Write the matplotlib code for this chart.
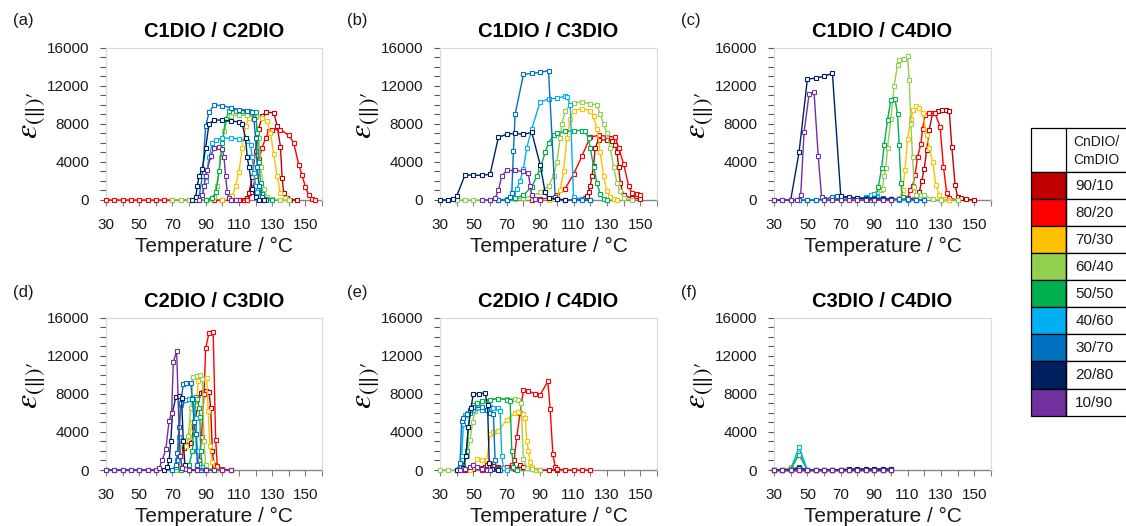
import matplotlib
matplotlib.use("Agg")
import matplotlib.pyplot as plt
from matplotlib.patches import Rectangle

plt.rcParams['font.family'] = ['Liberation Sans', 'DejaVu Sans']
plt.rcParams['mathtext.fontset'] = 'stix'

# ---------------- categories / styling lists ----------------
ratios = ['90/10', '80/20', '70/30', '60/40', '50/50', '40/60', '30/70', '20/80', '10/90']
colors = ['#C00000', '#FF0000', '#FFC000', '#92D050', '#00B050', '#00B0F0', '#0070C0', '#002060', '#7030A0']
panel_titles = ['C1DIO / C2DIO', 'C1DIO / C3DIO', 'C1DIO / C4DIO',
                'C2DIO / C3DIO', 'C2DIO / C4DIO', 'C3DIO / C4DIO']
panel_letters = ['(a)', '(b)', '(c)', '(d)', '(e)', '(f)']
x_ticks = [30, 50, 70, 90, 110, 130, 150]
y_ticks = [0, 4000, 8000, 12000, 16000]

# ---------------- (a) C1DIO / C2DIO ----------------
A_9010_T = [100, 105, 110, 113, 115, 116, 118, 120, 122, 124, 126, 131, 133, 135, 136, 137, 139, 141, 145]
A_9010_V = [0, 0, 0, 50, 200, 700, 2400, 5200, 7500, 8800, 9250, 9150, 7800, 5600, 2300, 700, 200, 50, 0]
A_8020_T = [30, 35, 40, 45, 50, 55, 60, 65, 70, 75, 80, 85, 90, 95, 100, 105, 110, 115,
            118, 120, 122, 124, 126, 128, 130, 135, 140, 143, 146, 148, 150, 152, 154, 156]
A_8020_V = [0, 0, 0, 0, 0, 0, 0, 0, 0, 0, 0, 0, 0, 0, 0, 0, 0, 0,
            800, 2500, 4300, 5500, 6500, 7200, 7400, 7400, 6800, 6000, 3700, 2600, 1400, 500, 100, 0]
A_7030_T = [100, 104, 106, 108, 110, 112, 114, 116, 120, 124, 127, 129, 131, 133, 135, 138, 140]
A_7030_V = [0, 100, 400, 1500, 2900, 5500, 7800, 8600, 8700, 8600, 8300, 7000, 4800, 2500, 700, 200, 0]
A_6040_T = [70, 75, 80, 85, 90, 93, 95, 97, 99, 101, 103, 105, 110, 115, 120, 122, 123, 125, 127, 130, 135, 140]
A_6040_V = [0, 0, 0, 0, 0, 100, 300, 1500, 4500, 7200, 8500, 8800, 8900, 8900, 8800, 6500, 3500, 1200, 300, 100, 0, 0]
A_5050_T = [90, 94, 96, 98, 100, 102, 104, 108, 112, 116, 120, 121, 122, 123, 124, 126, 130]
A_5050_V = [0, 200, 800, 3000, 6000, 8500, 9300, 9400, 9350, 9300, 9200, 7000, 4000, 1800, 600, 100, 0]
A_4060_T = [84, 86, 88, 90, 92, 94, 96, 100, 105, 110, 115, 117, 118, 119, 120, 121, 122, 124]
A_4060_V = [0, 100, 500, 2000, 4500, 6000, 6300, 6500, 6500, 6400, 6200, 5800, 4500, 2800, 1500, 800, 300, 0]
A_3070_T = [84, 86, 88, 90, 92, 95, 100, 105, 110, 115, 118, 119, 120, 121, 122, 124, 126]
A_3070_V = [0, 300, 2500, 7800, 9200, 10000, 9900, 9700, 9500, 9300, 9200, 8500, 6500, 3500, 1500, 300, 0]
A_2080_T = [82, 84, 85, 86, 88, 90, 92, 95, 100, 105, 110, 112, 114, 115, 116, 118, 120, 122, 125]
A_2080_V = [0, 300, 1500, 2500, 3300, 5500, 8000, 8400, 8400, 8300, 8200, 8000, 6500, 4500, 3500, 1200, 300, 50, 0]
A_1090_T = [86, 88, 89, 90, 91, 93, 95, 98, 100, 101, 102, 103, 104, 105, 108]
A_1090_V = [0, 500, 1500, 2500, 3200, 4600, 5500, 5600, 5400, 4500, 2500, 800, 200, 50, 0]

# ---------------- (b) C1DIO / C3DIO ----------------
B_9010_T = [105, 110, 115, 117, 118, 119, 120, 121, 122, 123, 125, 130, 133, 135, 136, 137, 138, 140, 145, 150]
B_9010_V = [0, 0, 100, 200, 400, 800, 1500, 2500, 3600, 5500, 6300, 6300, 6200, 5800, 5000, 3500, 1800, 500, 200, 100]
B_8020_T = [85, 90, 95, 100, 105, 110, 115, 120, 125, 130, 135, 137, 140, 143, 145, 148, 150]
B_8020_V = [0, 100, 200, 500, 1200, 2700, 4600, 6600, 6800, 6700, 6600, 5500, 3800, 1500, 700, 600, 500]
B_7030_T = [95, 98, 100, 102, 104, 106, 108, 110, 115, 120, 122, 124, 126, 128, 130, 132, 134, 136]
B_7030_V = [0, 100, 300, 1000, 3000, 6500, 8500, 9400, 9600, 9400, 8800, 7500, 5000, 2500, 900, 300, 100, 0]
B_6040_T = [30, 35, 40, 45, 50, 55, 60, 65, 70, 75, 80, 85, 90, 95,
            98, 100, 102, 103, 105, 108, 110, 115, 120, 124, 126, 128, 130, 132, 134, 136, 138, 140, 145]
B_6040_V = [0, 0, 0, 0, 0, 0, 0, 0, 0, 100, 200, 400, 800, 1500,
            2500, 4000, 6500, 8000, 9300, 10000, 10200, 10300, 10100, 10000, 9000, 8000, 7000, 5500, 3500, 1800, 900, 200, 0]
B_5050_T = [60, 65, 70, 75, 80, 85, 88, 90, 93, 95, 98, 100, 105, 110, 115, 117, 119, 120, 122, 124, 126, 128, 130]
B_5050_V = [0, 0, 100, 200, 500, 1400, 2500, 3300, 5000, 6000, 6800, 7000, 7200, 7300, 7300, 7200, 6500, 5500, 3500, 1800, 600, 100, 0]
B_4060_T = [65, 70, 72, 74, 76, 78, 80, 82, 85, 90, 95, 100, 105, 106, 108, 110, 115, 120]
B_4060_V = [0, 0, 200, 600, 1200, 2000, 3300, 5500, 7500, 10300, 10600, 10700, 10900, 10800, 10000, 300, 100, 0]
B_3070_T = [65, 70, 72, 73, 74, 75, 80, 85, 90, 95, 99, 100, 105, 110, 115, 120]
B_3070_V = [0, 0, 300, 700, 5200, 9000, 13200, 13300, 13400, 13600, 300, 100, 0, 0, 0, 0]
B_2080_T = [30, 35, 38, 40, 45, 50, 55, 60, 65, 70, 75, 80, 85, 90, 93, 95, 100, 105]
B_2080_V = [0, 0, 100, 400, 2650, 2600, 2600, 2700, 6600, 6900, 7000, 6900, 7100, 3700, 800, 200, 100, 0]
B_1090_T = [55, 60, 63, 65, 67, 70, 75, 80, 83, 84, 85, 87, 90]
B_1090_V = [0, 0, 200, 1000, 2500, 3100, 3100, 3000, 2800, 1500, 500, 100, 0]

# ---------------- (c) C1DIO / C4DIO ----------------
C_9010_T = [110, 115, 117, 118.5, 120, 121.5, 123, 125, 128, 130.5, 133, 135, 136.5, 138.5, 140, 142, 145, 150]
C_9010_V = [0, 300, 800, 2000, 3300, 5300, 7400, 9100, 9300, 9500, 9500, 9400, 5600, 1600, 350, 200, 100, 0]
C_8020_T = [105, 110, 111.5, 113, 114.5, 116, 118, 119, 120.5, 123, 126.5, 129.5, 131.5, 133.5, 135, 140]
C_8020_V = [0, 200, 1000, 1500, 2600, 4500, 5900, 7500, 8900, 9100, 9100, 7700, 3500, 700, 200, 0]
C_7030_T = [100, 105, 107, 108.5, 110, 112, 113.5, 115, 117, 119, 121.5, 123, 125, 127, 129, 131, 135]
C_7030_V = [0, 200, 1000, 3100, 6400, 8500, 9500, 9850, 9650, 9100, 6800, 5500, 4000, 1600, 500, 100, 0]
C_6040_T = [85, 88, 90, 92, 94, 95, 96, 97, 98, 100, 102, 104, 105, 108, 110, 111, 112, 113, 114, 115, 118, 120, 125, 130, 140]
C_6040_V = [0, 100, 300, 700, 1100, 1200, 2500, 3400, 5500, 8500, 12000, 14200, 14750, 14800, 15100, 12600, 8000, 4500, 1400, 500, 500, 500, 100, 0, 0]
C_5050_T = [88, 91, 92.5, 94.5, 96, 98, 100, 102.5, 104, 105, 106, 107, 110, 115, 120]
C_5050_V = [0, 400, 1400, 3400, 5800, 8400, 10500, 10600, 9000, 5800, 1800, 300, 0, 0, 0]
C_4060_T = [45, 50, 55, 60, 65, 70, 75, 80, 85, 88, 90, 92, 95, 100, 105, 110, 115, 120]
C_4060_V = [0, 0, 0, 0, 0, 100, 100, 200, 300, 500, 600, 300, 100, 100, 0, 0, 0, 0]
C_3070_T = [40, 45, 50, 55, 60, 65, 68, 70, 75, 80, 85, 90, 95, 100, 105, 110, 115, 120]
C_3070_V = [0, 0, 0, 0, 100, 300, 400, 300, 200, 200, 200, 200, 200, 100, 100, 100, 0, 0]
C_2080_T = [30, 35, 40, 45, 50, 55, 60, 65, 70, 75, 80, 85, 90, 95, 100]
C_2080_V = [0, 0, 0, 5000, 12700, 12800, 13000, 13300, 400, 300, 200, 100, 100, 100, 100]
C_1090_T = [30, 35, 40, 44, 46, 48, 51, 54, 56.5, 58.5, 60, 65, 70, 75, 80, 85, 90, 95, 100]
C_1090_V = [0, 0, 0, 0, 500, 7100, 11100, 11300, 4600, 300, 0, 0, 0, 0, 0, 0, 0, 0, 0]

# ---------------- (d) C2DIO / C3DIO ----------------
D_9010_T = [74, 75.5, 77, 79, 81, 83, 85, 87, 88.5, 90, 92, 93, 94, 95, 96, 100, 105]
D_9010_V = [0, 1500, 2300, 2600, 2800, 4500, 6500, 8100, 8200, 8300, 8200, 6500, 2000, 500, 100, 0, 0]
D_8020_T = [80, 85, 86, 87.5, 89, 90, 92, 94.5, 96, 97, 100, 105]
D_8020_V = [0, 0, 1000, 3500, 8000, 12800, 14400, 14500, 3200, 400, 100, 0]
D_7030_T = [74, 76, 78, 80, 82, 84.3, 85.6, 88, 90.6, 91.5, 92.5, 94, 96, 100]
D_7030_V = [0, 1500, 2500, 3500, 5000, 6800, 9400, 9600, 9700, 6200, 2500, 800, 0, 0]
D_6040_T = [72, 74, 75.5, 77.5, 79.5, 81, 82.5, 84.5, 86.5, 88, 89, 90, 92, 95, 100]
D_6040_V = [0, 1000, 2800, 3150, 3600, 6500, 9800, 9900, 10000, 9600, 3000, 500, 0, 0, 0]
D_5050_T = [75, 78, 80, 82, 83, 84, 85, 86, 86.5, 87, 88, 90, 95]
D_5050_V = [0, 200, 500, 2000, 5000, 7700, 7500, 6500, 5600, 2000, 300, 0, 0]
D_4060_T = [70, 72, 73, 74, 75, 76, 78, 80, 82, 84, 85, 86, 88, 90]
D_4060_V = [0, 300, 1000, 3500, 6800, 7300, 7400, 7500, 7600, 5500, 2000, 300, 0, 0]
D_3070_T = [70, 72, 73, 74, 75, 76.5, 78, 81, 82, 83, 84, 85, 87, 90]
D_3070_V = [0, 500, 1800, 4500, 7000, 9000, 9100, 9100, 7500, 5000, 3800, 500, 0, 0]
D_2080_T = [30, 35, 40, 45, 50, 55, 60, 65, 67, 68, 69, 70, 72, 74, 75.5, 76.5, 77.5, 80, 85]
D_2080_V = [0, 0, 0, 0, 0, 0, 0, 0, 300, 1000, 3000, 6000, 7700, 7800, 7600, 3000, 500, 0, 0]
D_1090_T = [30, 35, 40, 45, 50, 55, 60, 62, 64, 66, 68, 69.5, 70.5, 72.5, 74.5, 76, 78, 80, 85, 90, 95, 100, 105]
D_1090_V = [0, 0, 0, 0, 0, 0, 0, 200, 1100, 2200, 5200, 6000, 11300, 12500, 1500, 200, 100, 0, 0, 0, 0, 0, 0]

# ---------------- (e) C2DIO / C4DIO ----------------
E_9010_T = [45, 50, 55, 57, 58, 60, 62, 65, 70, 75, 78, 80, 85, 88, 90, 95, 100]
E_9010_V = [0, 100, 200, 300, 500, 600, 400, 300, 200, 100, 500, 300, 100, 0, 0, 0, 0]
E_8020_T = [55, 60, 65, 70, 73, 74.4, 76, 78, 80, 83, 87, 90, 94.6, 96, 97.6, 99, 100, 105, 110, 115, 120]
E_8020_V = [0, 300, 200, 300, 500, 1000, 3500, 6000, 8400, 8300, 8000, 7900, 9300, 6400, 1700, 300, 100, 0, 0, 0, 0]
E_7030_T = [48, 50, 52, 55, 58, 60, 62, 65, 70, 75, 77, 80, 81, 82, 83, 84, 85, 87]
E_7030_V = [0, 300, 1200, 1100, 1000, 3800, 4000, 4100, 5300, 6000, 6100, 5900, 5500, 3000, 2000, 800, 300, 0]
E_6040_T = [30, 35, 40, 44, 46, 48, 49.5, 51, 53, 55, 58, 60, 65, 70, 75, 77, 78.5, 80, 82, 85, 90]
E_6040_V = [0, 0, 0, 300, 1500, 3200, 5000, 6200, 6800, 7200, 7300, 7400, 7500, 7500, 7500, 7400, 7000, 1200, 200, 100, 0]
E_5050_T = [42, 44, 46, 47, 48, 50, 52, 55, 60, 65, 70, 72, 73, 74, 76]
E_5050_V = [0, 500, 2000, 4500, 6000, 6800, 7000, 7300, 7400, 7500, 7400, 7300, 2000, 300, 0]
E_4060_T = [41, 43, 44, 45, 47, 50, 55, 60, 62, 65, 66, 67, 68, 70]
E_4060_V = [0, 1500, 4800, 5800, 6000, 6300, 6300, 6600, 6500, 6500, 6200, 1500, 200, 0]
E_3070_T = [40, 42, 43, 44, 46, 48, 50, 55, 58, 60, 62, 63, 64, 66]
E_3070_V = [0, 700, 5200, 5500, 5900, 6300, 6600, 6600, 6300, 6000, 5900, 1000, 100, 0]
E_2080_T = [40, 44, 45.5, 47, 48.5, 50, 53.5, 57, 58.5, 59.5, 61, 65]
E_2080_V = [0, 200, 1500, 4500, 6500, 8000, 8000, 8100, 6800, 700, 100, 0]
E_1090_T = [42, 45, 48, 50, 52, 55, 58, 60]
E_1090_V = [0, 100, 300, 500, 300, 100, 0, 0]

# ---------------- (f) C3DIO / C4DIO ----------------
F_T = [30, 35, 40, 45, 50, 55, 60, 65, 70, 75, 80, 85, 90, 95, 100]
F_9010_V = [0, 0, 0, 0, 0, 0, 0, 0, 0, 0, 0, 0, 0, 0, 0]
F_8020_V = [0, 0, 0, 0, 0, 0, 0, 0, 0, 0, 0, 0, 0, 0, 0]
F_7030_V = [0, 0, 300, 200, 0, 0, 0, 0, 0, 0, 0, 0, 0, 0, 0]
F_6040_V = [0, 0, 200, 1800, 0, 0, 0, 0, 0, 0, 0, 0, 0, 0, 0]
F_5050_V = [0, 0, 100, 1600, 0, 0, 0, 0, 0, 100, 100, 100, 100, 100, 100]
F_4060_V = [0, 0, 100, 2400, 0, 0, 0, 0, 0, 0, 0, 0, 0, 0, 0]
F_3070_V = [0, 0, 0, 300, 0, 0, 0, 0, 0, 0, 0, 0, 0, 0, 0]
F_2080_V = [0, 0, 0, 200, 0, 0, 0, 0, 0, 100, 100, 100, 100, 100, 100]
F_1090_V = [0, 0, 0, 0, 0, 0, 0, 0, 0, 0, 0, 0, 0, 0, 0]

panels = [
    [(A_9010_T, A_9010_V), (A_8020_T, A_8020_V), (A_7030_T, A_7030_V), (A_6040_T, A_6040_V), (A_5050_T, A_5050_V),
     (A_4060_T, A_4060_V), (A_3070_T, A_3070_V), (A_2080_T, A_2080_V), (A_1090_T, A_1090_V)],
    [(B_9010_T, B_9010_V), (B_8020_T, B_8020_V), (B_7030_T, B_7030_V), (B_6040_T, B_6040_V), (B_5050_T, B_5050_V),
     (B_4060_T, B_4060_V), (B_3070_T, B_3070_V), (B_2080_T, B_2080_V), (B_1090_T, B_1090_V)],
    [(C_9010_T, C_9010_V), (C_8020_T, C_8020_V), (C_7030_T, C_7030_V), (C_6040_T, C_6040_V), (C_5050_T, C_5050_V),
     (C_4060_T, C_4060_V), (C_3070_T, C_3070_V), (C_2080_T, C_2080_V), (C_1090_T, C_1090_V)],
    [(D_9010_T, D_9010_V), (D_8020_T, D_8020_V), (D_7030_T, D_7030_V), (D_6040_T, D_6040_V), (D_5050_T, D_5050_V),
     (D_4060_T, D_4060_V), (D_3070_T, D_3070_V), (D_2080_T, D_2080_V), (D_1090_T, D_1090_V)],
    [(E_9010_T, E_9010_V), (E_8020_T, E_8020_V), (E_7030_T, E_7030_V), (E_6040_T, E_6040_V), (E_5050_T, E_5050_V),
     (E_4060_T, E_4060_V), (E_3070_T, E_3070_V), (E_2080_T, E_2080_V), (E_1090_T, E_1090_V)],
    [(F_T, F_9010_V), (F_T, F_8020_V), (F_T, F_7030_V), (F_T, F_6040_V), (F_T, F_5050_V),
     (F_T, F_4060_V), (F_T, F_3070_V), (F_T, F_2080_V), (F_T, F_1090_V)],
]

# ---------------- layout (pixels) ----------------
W, H = 1126, 526
fig = plt.figure(figsize=(W / 100, H / 100), dpi=100)
cols = [(106, 322), (440, 657), (774, 991)]
rows = [(47.7, 200), (317.7, 470)]

for i, series in enumerate(panels):
    l, r = cols[i % 3]
    t, b = rows[i // 3]
    ax = fig.add_axes([l / W, 1 - b / H, (r - l) / W, (b - t) / H])
    for k, (T, V) in enumerate(series):
        ax.plot(T, V, '-', color=colors[k], lw=1.0, marker='s', ms=3.3,
                mfc='white', mec=colors[k], mew=0.8, clip_on=False, zorder=2 + k)
    ax.set_xlim(30, 160)
    ax.set_ylim(0, 16000)
    ax.set_xticks(x_ticks)
    ax.set_xticks([40, 60, 80, 100, 120, 140, 160], minor=True)
    ax.set_yticks(y_ticks)
    ax.set_yticks([v for v in range(0, 16001, 1000) if v % 4000], minor=True)
    ax.tick_params(axis='x', which='both', direction='out', length=4, width=0.8,
                   color='#808080', labelsize=11, pad=9, labelcolor='#1a1a1a')
    ax.tick_params(axis='y', which='both', direction='out', length=4, width=0.8,
                   color='#595959', labelsize=11, pad=8, labelcolor='#1a1a1a')
    for s in ['top', 'right', 'left']:
        ax.spines[s].set_color('#D9D9D9')
        ax.spines[s].set_linewidth(0.8)
    ax.spines['bottom'].set_color('#868686')
    ax.spines['bottom'].set_linewidth(1.0)
    ax.spines['bottom'].set_zorder(1)
    ax.set_xlabel('Temperature / °C', fontsize=15, labelpad=3.5, color='#1a1a1a')
    ax.set_ylabel(r'$\varepsilon_{(\Vert)\prime}$', fontsize=23, labelpad=0)
    ax.yaxis.label.set_y(0.56)

# overlay for panel letters, titles and legend table
ov = fig.add_axes([0, 0, 1, 1], zorder=50)
ov.set_xlim(0, W)
ov.set_ylim(H, 0)
ov.axis('off')
ov.patch.set_alpha(0)

for i in range(6):
    l, r = cols[i % 3]
    ty = [31.5, 301.5][i // 3]
    ly = [21, 292][i // 3]
    ov.text(l - 93, ly, panel_letters[i], fontsize=12, ha='left', va='center', color='#1a1a1a')
    ov.text((l + r) / 2, ty, panel_titles[i], fontsize=14.5, fontweight='bold',
            ha='center', va='center', color='black')

# legend table
tx0, tx1, tx2 = 1031, 1065.5, 1135
ty0, ty1 = 127.7, 171.7
rh = 27.1
ov.add_patch(Rectangle((tx0, ty0), tx2 - tx0, ty1 - ty0, fc='white', ec='black', lw=0.9, clip_on=False))
ov.plot([tx1, tx1], [ty0, ty1 + rh * len(ratios)], color='black', lw=0.9, clip_on=False)
ov.text(1073, 142, 'CnDIO/', fontsize=10, ha='left', va='center', color='#1a1a1a')
ov.text(1073, 159.5, 'CmDIO', fontsize=10, ha='left', va='center', color='#1a1a1a')
for k, (lab, c) in enumerate(zip(ratios, colors)):
    y0 = ty1 + k * rh
    ov.add_patch(Rectangle((tx0, y0), tx1 - tx0, rh, fc=c, ec='black', lw=0.9, clip_on=False))
    ov.add_patch(Rectangle((tx1, y0), tx2 - tx1, rh, fc='white', ec='black', lw=0.9, clip_on=False))
    ov.text(1094.5, y0 + rh / 2 + 0.5, lab, fontsize=11, ha='center', va='center', color='#1a1a1a')

fig.savefig('out.png', dpi=100)
